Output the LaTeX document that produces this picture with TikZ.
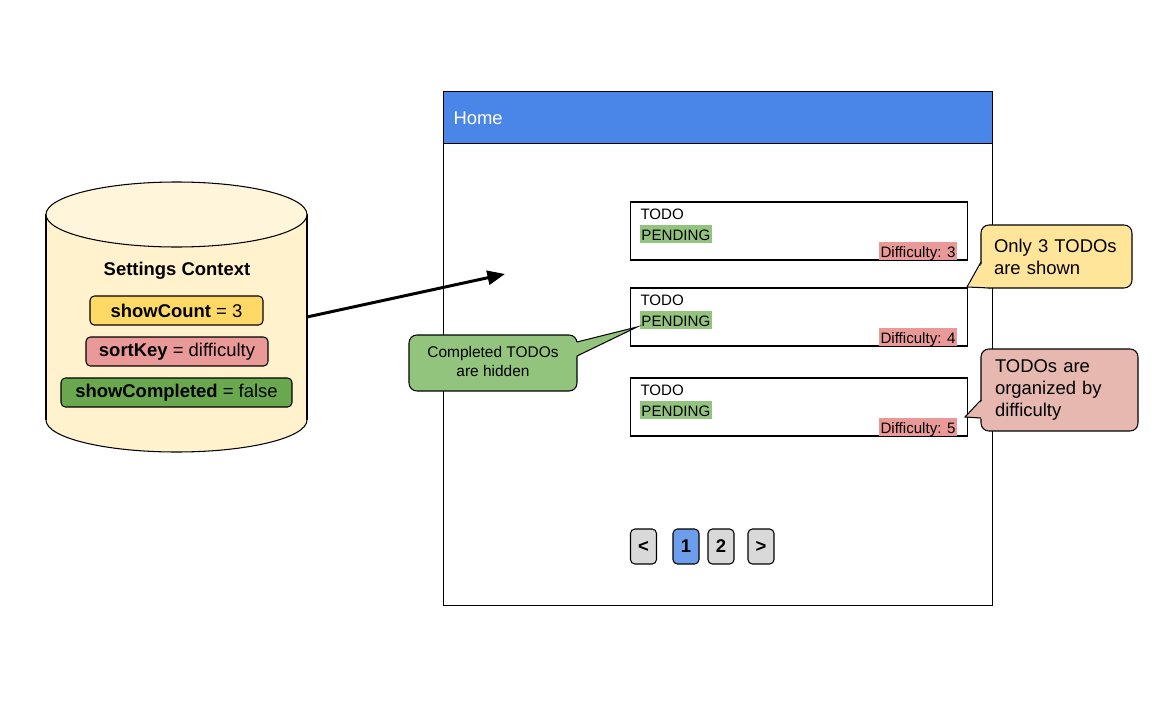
\documentclass[tikz,border=0pt]{standalone}
\usepackage{fontspec}
\setmainfont{Liberation Sans}
\usetikzlibrary{arrows.meta}

\begin{document}
\begin{tikzpicture}[x=0.02cm,y=-0.02cm,line width=0.6pt,
    every node/.style={inner sep=0pt},
    setting/.style={draw,rounded corners=2.5pt,minimum height=0.58cm,font=\fontsize{10.5}{12}\selectfont},
    card/.style={draw,minimum width=6.76cm,minimum height=1.16cm},
    cardtext/.style={font=\fontsize{8.6}{10}\selectfont},
    tag/.style={cardtext,text height=8.8pt,text depth=1.5pt,inner xsep=1.1pt},
    pagebtn/.style={draw,rounded corners=2.5pt,minimum width=0.52cm,minimum height=0.7cm,font=\bfseries\fontsize{10.5}{12}\selectfont},
    note/.style={draw,rounded corners=4.5pt,font=\fontsize{10.5}{12.5}\selectfont,align=left}]
        \definecolor{cylfill}{HTML}{FFF2CC}
        \definecolor{cyltop}{HTML}{FFF5DA}
        \definecolor{countfill}{HTML}{FFD966}
        \definecolor{diffred}{HTML}{EA9999}
        \definecolor{donegreen}{HTML}{6AA84F}
        \definecolor{pendgreen}{HTML}{93C47D}
        \definecolor{headblue}{HTML}{4A86E8}
        \definecolor{activeblue}{HTML}{6D9EEB}
        \definecolor{btngray}{HTML}{D9D9D9}
        \definecolor{noteyellow}{HTML}{FFE599}
        \definecolor{notepink}{HTML}{E6B8AF}

        \useasboundingbox (0,0) rectangle (1161,720);

        % settings store
        \fill[cylfill] (46,214) rectangle (307,420);
        \fill[cylfill] (176.5,420) ellipse[x radius=130.5, y radius=32];
        \begin{scope}
            \clip (40,420) rectangle (320,460);
            \draw (176.5,420) ellipse[x radius=130.5, y radius=32];
        \end{scope}
        \draw (46,214) -- (46,420) (307,214) -- (307,420);
        \draw[fill=cyltop] (176.5,214.5) ellipse[x radius=130.5, y radius=32.5];

        \node[anchor=base,font=\bfseries\fontsize{10.5}{12}\selectfont] (ctxtitle) at (177,275) {Settings Context};
        \node[setting,fill=countfill,minimum width=3.46cm] (showcount) at (176.5,310.5) {\textbf{showCount} = 3};
        \node[setting,fill=diffred,minimum width=3.64cm] (sortkey) at (177,351.5) {\textbf{sortKey} = difficulty};
        \node[setting,fill=donegreen,minimum width=4.62cm] (showdone) at (176.5,392.5) {\textbf{showCompleted} = false};

        % phone screen
        \node[draw,minimum width=11cm,minimum height=10.3cm] (screen) at (718,348.5) {};
        \node[draw,fill=headblue,minimum width=11cm,minimum height=1.04cm,anchor=north] (header) at (screen.north) {};
        \node[anchor=base west,text=white,font=\fontsize{10.5}{12}\selectfont] (hometitle) at (453,124) {Home};

        %todo cards
        \node[card] (todoa) at (799,231) {};
        \node[cardtext,anchor=base west] (todoatitle) at (640,219) {TODO};
        \node[tag,fill=pendgreen,anchor=base west] (todoastate) at (639,240) {PENDING};
        \node[tag,fill=diffred,anchor=base east] (todoadiff) at (958,257) {Difficulty: 3};

        \node[card] (todob) at (799,317) {};
        \node[cardtext,anchor=base west] (todobtitle) at (640,305) {TODO};
        \node[tag,fill=pendgreen,anchor=base west] (todobstate) at (639,326) {PENDING};
        \node[tag,fill=diffred,anchor=base east] (todobdiff) at (958,343) {Difficulty: 4};

        \node[card] (todoc) at (799,407) {};
        \node[cardtext,anchor=base west] (todoctitle) at (640,395) {TODO};
        \node[tag,fill=pendgreen,anchor=base west] (todocstate) at (639,416) {PENDING};
        \node[tag,fill=diffred,anchor=base east] (todocdiff) at (958,433) {Difficulty: 5};

        %pagination
        \node[pagebtn,fill=btngray] (prevbtn) at (643.5,546.5) {<};
        \node[pagebtn,fill=activeblue] (pageone) at (686,546.5) {1};
        \node[pagebtn,fill=btngray] (pagetwo) at (721,546.5) {2};
        \node[pagebtn,fill=btngray] (nextbtn) at (761,546.5) {>};

        % context feeds the screen
        \coordinate (ctxport) at (307,317);
        \coordinate (arrowtip) at (505,274);
        \draw[line width=1.7pt,-{Triangle[length=10pt,width=8pt]}] (ctxport) -- (arrowtip);

        %callouts
        \node[note,fill=pendgreen,align=center,font=\fontsize{8.8}{10.8}\selectfont,minimum width=3.36cm,minimum height=1.12cm,text depth=2pt] (hiddennote) at (493,363) {Completed TODOs\\are hidden};
        \coordinate (hiddentip) at (637,327);
        \fill[pendgreen] (574,342) -- (577,342) -- (hiddentip) -- (577,356) -- (574,356) -- cycle;
        \draw (577,342) -- (hiddentip) -- (577,356);

        \node[note,fill=noteyellow,text width=2.5cm,inner xsep=0.26cm,minimum height=1.26cm] (countnote) at (1056.5,256.5) {Only 3 TODOs\\are shown};
        \coordinate (counttip) at (967,287);
        \fill[noteyellow] (983,262) -- (counttip) -- (990,288) -- (990,262) -- cycle;
        \draw (981,262) -- (counttip) -- (990,288);

        \node[note,fill=notepink,text width=2.58cm,inner xsep=0.28cm,minimum height=1.64cm] (sortnote) at (1059.5,390) {TODOs are\\organized by\\difficulty};
        \coordinate (sorttip) at (965,417);
        \fill[notepink] (984,399) -- (sorttip) -- (984,419) -- cycle;
        \draw (981,400) -- (sorttip) -- (981,418);
    \end{tikzpicture}
\end{document}
